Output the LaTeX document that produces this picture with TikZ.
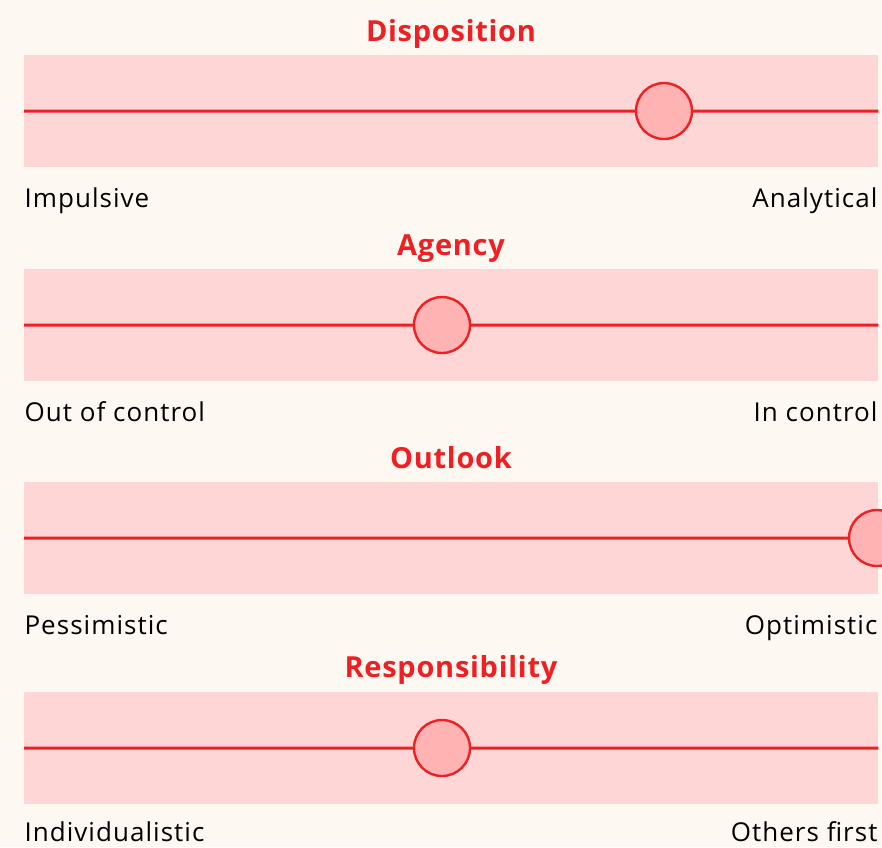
\documentclass[tikz,border=0pt]{standalone}
\usepackage{fontspec}
\setmainfont{Open Sans}
\newfontfamily\polefont[LetterSpace=4]{Open Sans}
\newfontfamily\titlefont[LetterSpace=2.5]{Open Sans}
\usetikzlibrary{positioning}
\definecolor{bgcream}{HTML}{FEF8F2}
\definecolor{bandpink}{HTML}{FFD6D6}
\definecolor{trackred}{HTML}{EE2024}
\definecolor{knobpink}{HTML}{FFB3B3}
\begin{document}
\begin{tikzpicture}[x=1pt,y=-1pt,
  band/.style={rectangle, fill=bandpink, minimum width=854pt, minimum height=112pt, inner sep=0pt, anchor=north west},
  knob/.style={circle, draw=trackred, fill=knobpink, line width=2.4pt, minimum size=56pt, inner sep=0pt},
  track/.style={draw=trackred, line width=3pt},
  title/.style={anchor=base, text=trackred, font=\titlefont\fontsize{29}{33}\selectfont\bfseries},
  pole/.style={anchor=base west, font=\polefont\fontsize{26}{30}\selectfont},
  poleR/.style={anchor=base east, font=\polefont\fontsize{26}{30}\selectfont}]
\fill[bgcream] (0,0) rectangle (882,847);
\useasboundingbox (0,0) rectangle (882,847);
\clip (0,0) rectangle (882,847);
% Disposition
\node[title] (t_1) at (451,41) {Disposition};
\node[band] (b_1) at (24,55) {};
\node[pole] (l_1) at (21,207) {Impulsive};
\node[poleR] (r_1) at (881,207) {Analytical};
\node[knob] (k_1) at (664,111) {};
\path[track] (b_1.west) -- (k_1) -- (b_1.east);
% Agency
\node[title] (t_2) at (451,255) {Agency};
\node[band] (b_2) at (24,269) {};
\node[pole] (l_2) at (21,421) {Out of control};
\node[poleR] (r_2) at (881,421) {In control};
\node[knob] (k_2) at (442,325) {};
\path[track] (b_2.west) -- (k_2) -- (b_2.east);
% Outlook
\node[title] (t_3) at (451,468) {Outlook};
\node[band] (b_3) at (24,482) {};
\node[pole] (l_3) at (21,634) {Pessimistic};
\node[poleR] (r_3) at (881,634) {Optimistic};
\node[knob] (k_3) at (877,538) {};
\path[track] (b_3.west) -- (k_3);
% Responsibility
\node[title] (t_4) at (451,677) {Responsibility};
\node[band] (b_4) at (24,692) {};
\node[pole] (l_4) at (21,841) {Individualistic};
\node[poleR] (r_4) at (881,841) {Others first};
\node[knob] (k_4) at (442,748) {};
\path[track] (b_4.west) -- (k_4) -- (b_4.east);
\end{tikzpicture}
\end{document}
